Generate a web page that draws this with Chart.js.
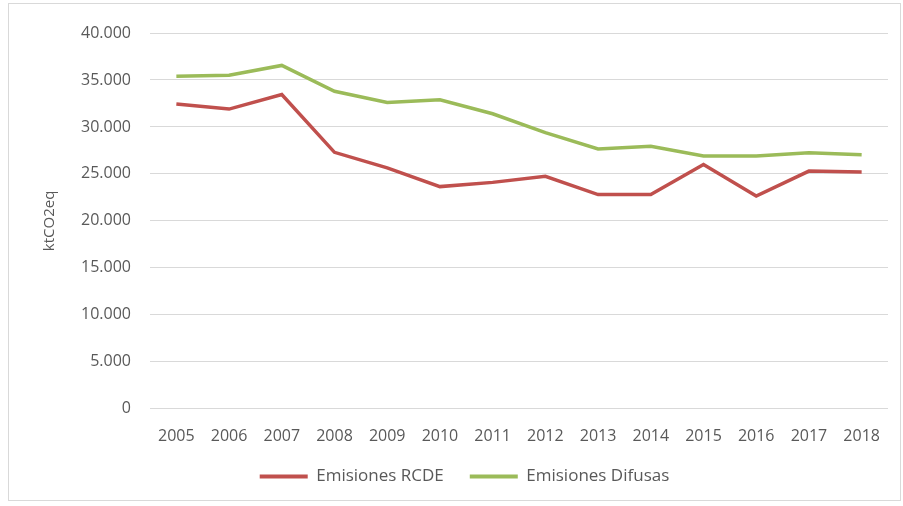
<!DOCTYPE html>
<html lang="es">
<head>
<meta charset="UTF-8">
<title>Emisiones RCDE y Difusas</title>
<script src="https://cdn.jsdelivr.net/npm/chart.js"></script>
<style>
  body { margin: 0; background: #ffffff; }
  .frame {
    position: absolute; left: 8px; top: 3px;
    width: 891px; height: 496px;
    border: 1px solid #d9d9d9;
  }
  #chart { position: absolute; left: 0; top: 0; }
</style>
</head>
<body>
<div class="frame"></div>
<canvas id="chart" width="903" height="506"></canvas>
<script>
const years = ['2005','2006','2007','2008','2009','2010','2011','2012','2013','2014','2015','2016','2017','2018'];
const rcde = [32450, 31900, 33450, 27300, 25650, 23650, 24100, 24750, 22800, 22800, 26000, 22650, 25300, 25200];
const difusas = [35400, 35500, 36550, 33800, 32600, 32900, 31400, 29400, 27650, 27950, 26900, 26900, 27250, 27050];

const gray = '#595959';
const fontFamily = '"Open Sans", sans-serif';
const legendSqueeze = 22;

// legend takes less room so the plot reaches further down, but its items stay put
const legendShift = {
  id: 'legendShift',
  afterInit(chart) {
    const legend = chart.legend;
    if (!legend || legend._patched) return;
    const fit = legend.fit;
    legend.fit = function () { fit.call(this); this.height -= legendSqueeze; };
    legend._patched = true;
  },
  afterLayout(chart) {
    chart.legend.top -= legendSqueeze;
  }
};

new Chart(document.getElementById('chart'), {
  type: 'line',
  data: {
    labels: years,
    datasets: [{
      label: 'Emisiones RCDE',
      data: rcde,
      borderColor: '#c0504d',
      backgroundColor: '#c0504d',
      borderWidth: 3.5,
      pointRadius: 0,
      tension: 0
    }, {
      label: 'Emisiones Difusas',
      data: difusas,
      borderColor: '#9bbb59',
      backgroundColor: '#9bbb59',
      borderWidth: 3.5,
      pointRadius: 0,
      tension: 0
    }]
  },
  options: {
    responsive: false,
    animation: false,
    layout: { padding: { left: 41, right: 15, top: 33, bottom: 11 } },
    plugins: {
      tooltip: { enabled: false },
      legend: {
        position: 'bottom',
        labels: {
          color: gray,
          font: { family: fontFamily, size: 17 },
          boxWidth: 48,
          boxHeight: 4,
          padding: 26,
          generateLabels(chart) {
            return Chart.defaults.plugins.legend.labels.generateLabels(chart).map(function(l) {
              l.lineWidth = 0;
              l.fillStyle = l.strokeStyle;
              return l;
            });
          }
        }
      }
    },
    scales: {
      x: {
        offset: true,
        grid: { display: false, drawTicks: false },
        border: { display: false },
        ticks: { color: gray, font: { family: fontFamily, size: 16 }, padding: 18, maxRotation: 0 }
      },
      y: {
        min: 0,
        max: 40000,
        afterFit(scale) { scale.width = 109; },
        grid: { color: '#d9d9d9', lineWidth: 1, drawTicks: false },
        border: { display: false },
        ticks: {
          stepSize: 5000,
          color: gray,
          padding: 19,
          font: { family: fontFamily, size: 16 },
          callback: function(v) { return v.toLocaleString('de-DE'); }
        },
        title: {
          display: true,
          text: 'ktCO2eq',
          color: gray,
          padding: 0,
          font: { family: fontFamily, size: 15 }
        }
      }
    }
  },
  plugins: [legendShift]
});
</script>
</body>
</html>
